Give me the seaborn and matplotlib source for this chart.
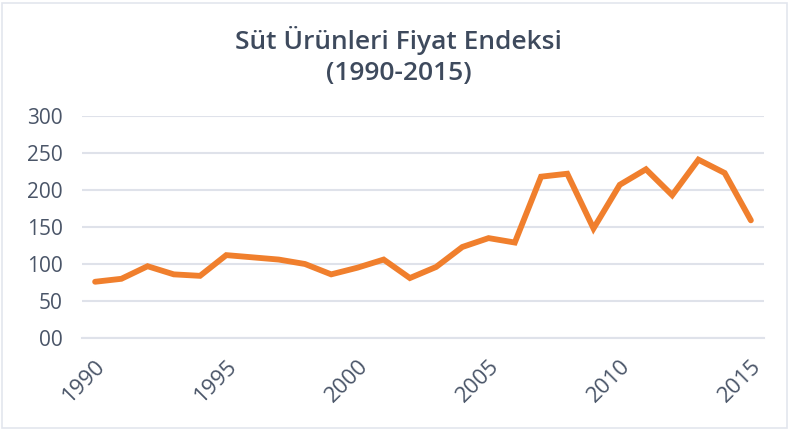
import pandas as pd
import seaborn as sns
import matplotlib.pyplot as plt
from matplotlib.patches import Rectangle

years = list(range(1990, 2016))
index_values = [76, 80, 97, 86, 84, 112, 109, 106, 100, 86, 95, 106,
                81, 96, 123, 135, 129, 218, 222, 148, 207, 228, 193, 241, 223, 159]
y_ticks = [0, 50, 100, 150, 200, 250, 300]
y_labels = ["00", "50", "100", "150", "200", "250", "300"]
x_labels = [1990, 1995, 2000, 2005, 2010, 2015]

df = pd.DataFrame({"year": years, "value": index_values})

sns.set_style("white")
plt.rcParams['font.family'] = ['Open Sans', 'DejaVu Sans']
text_col = "#3e4a5d"
grid_col = "#dfe2ea"

fig = plt.figure(figsize=(7.89, 4.30), dpi=100)
fig.patches.append(Rectangle((0.003, 0.004), 0.994, 0.99, transform=fig.transFigure,
                             fill=False, edgecolor="#e3e6ee", linewidth=1.2))
ax = fig.add_axes([82 / 789, (430 - 338) / 430, 682 / 789, 222 / 430])

sns.lineplot(data=df, x="year", y="value", ax=ax, color="#f07f2d", linewidth=4.2,
             solid_joinstyle="miter", clip_on=False)

ax.set_xlim(1989.5, 2015.5)
ax.set_ylim(0, 300)
ax.set_yticks(y_ticks)
ax.set_yticklabels(y_labels, fontsize=15, color="#4a5568")
ax.yaxis.grid(True, color=grid_col, linewidth=1.5)
ax.set_axisbelow(True)

ax.set_xticks(x_labels)
ax.set_xticklabels([str(y) for y in x_labels], rotation=45, ha="right",
                   rotation_mode="anchor", fontsize=16, color="#4a5568")
ax.set_xticks([y - 0.5 for y in years] + [2015.5], minor=True)
ax.tick_params(axis="x", which="major", length=0, pad=13)
ax.tick_params(axis="x", which="minor", length=7, width=1.5, color=grid_col, direction="out")
ax.tick_params(axis="y", length=0, pad=14)

for side in ["top", "right", "left"]:
    ax.spines[side].set_visible(False)
ax.spines["bottom"].set_color(grid_col)
ax.spines["bottom"].set_linewidth(1.5)
ax.set_xlabel("")
ax.set_ylabel("")

fig.text(0.505, 0.905, "Süt Ürünleri Fiyat Endeksi", ha="center", va="center",
         fontsize=19, color=text_col, fontweight="semibold")
fig.text(0.505, 0.830, "(1990-2015)", ha="center", va="center",
         fontsize=19, color=text_col, fontweight="semibold")

fig.savefig("out.png", dpi=100)
